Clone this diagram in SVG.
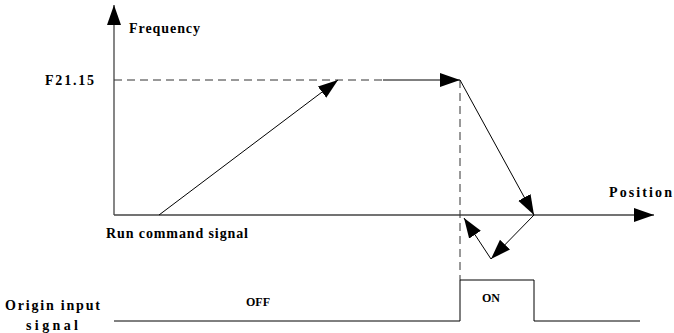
<svg xmlns="http://www.w3.org/2000/svg" width="674" height="333" viewBox="0 0 674 333">
<style>
text{font-family:"Liberation Serif","Times New Roman",serif;font-weight:bold;font-size:14px;fill:#000}
.sm{font-size:12px}
.ax{stroke:#444;stroke-width:1.3;fill:none}
.ln{stroke:#000;stroke-width:1;fill:none}
.ds{stroke:#333;stroke-width:1;fill:none;stroke-dasharray:8,5}
</style>
<defs>
<marker id="ah" markerUnits="userSpaceOnUse" markerWidth="22" markerHeight="16" refX="20" refY="7" orient="auto">
<path d="M0,0 L20,7 L0,14 Z" fill="#000"/>
</marker>
</defs>
<rect width="674" height="333" fill="#fff"/>
<g id="connectors">
<line id="y-axis" class="ax" x1="114" y1="215" x2="114" y2="5" marker-end="url(#ah)"/>
<line id="x-axis" class="ax" x1="114" y1="215" x2="654" y2="215" marker-end="url(#ah)"/>
<line class="ds" x1="114" y1="80" x2="383" y2="80"/>
<line class="ln" x1="383" y1="80" x2="460" y2="80" marker-end="url(#ah)"/>
<line class="ln" x1="159" y1="215" x2="338" y2="80" marker-end="url(#ah)"/>
<line class="ds" x1="460" y1="80" x2="460" y2="280"/>
<line class="ln" x1="460" y1="80" x2="534" y2="215" marker-end="url(#ah)"/>
<line class="ln" x1="534" y1="215" x2="491" y2="259" marker-end="url(#ah)"/>
<line class="ln" x1="491" y1="259" x2="464" y2="218" marker-end="url(#ah)"/>
<polyline class="ln" points="114,321 460,321 460,280 534,280 534,321 640,321"/>
</g>
<g id="labels">
<text x="129" y="33" textLength="71" lengthAdjust="spacing">Frequency</text>
<text x="45" y="85" textLength="49" lengthAdjust="spacing">F21.15</text>
<text x="609" y="197" textLength="63" lengthAdjust="spacing">Position</text>
<text x="106" y="238" textLength="142" lengthAdjust="spacing">Run command signal</text>
<text x="5" y="310" textLength="95" lengthAdjust="spacing">Origin input</text>
<text x="26" y="330" textLength="52" lengthAdjust="spacing">signal</text>
<text class="sm" x="258" y="306" text-anchor="middle">OFF</text>
<text class="sm" x="491" y="302" text-anchor="middle">ON</text>
</g>
</svg>
